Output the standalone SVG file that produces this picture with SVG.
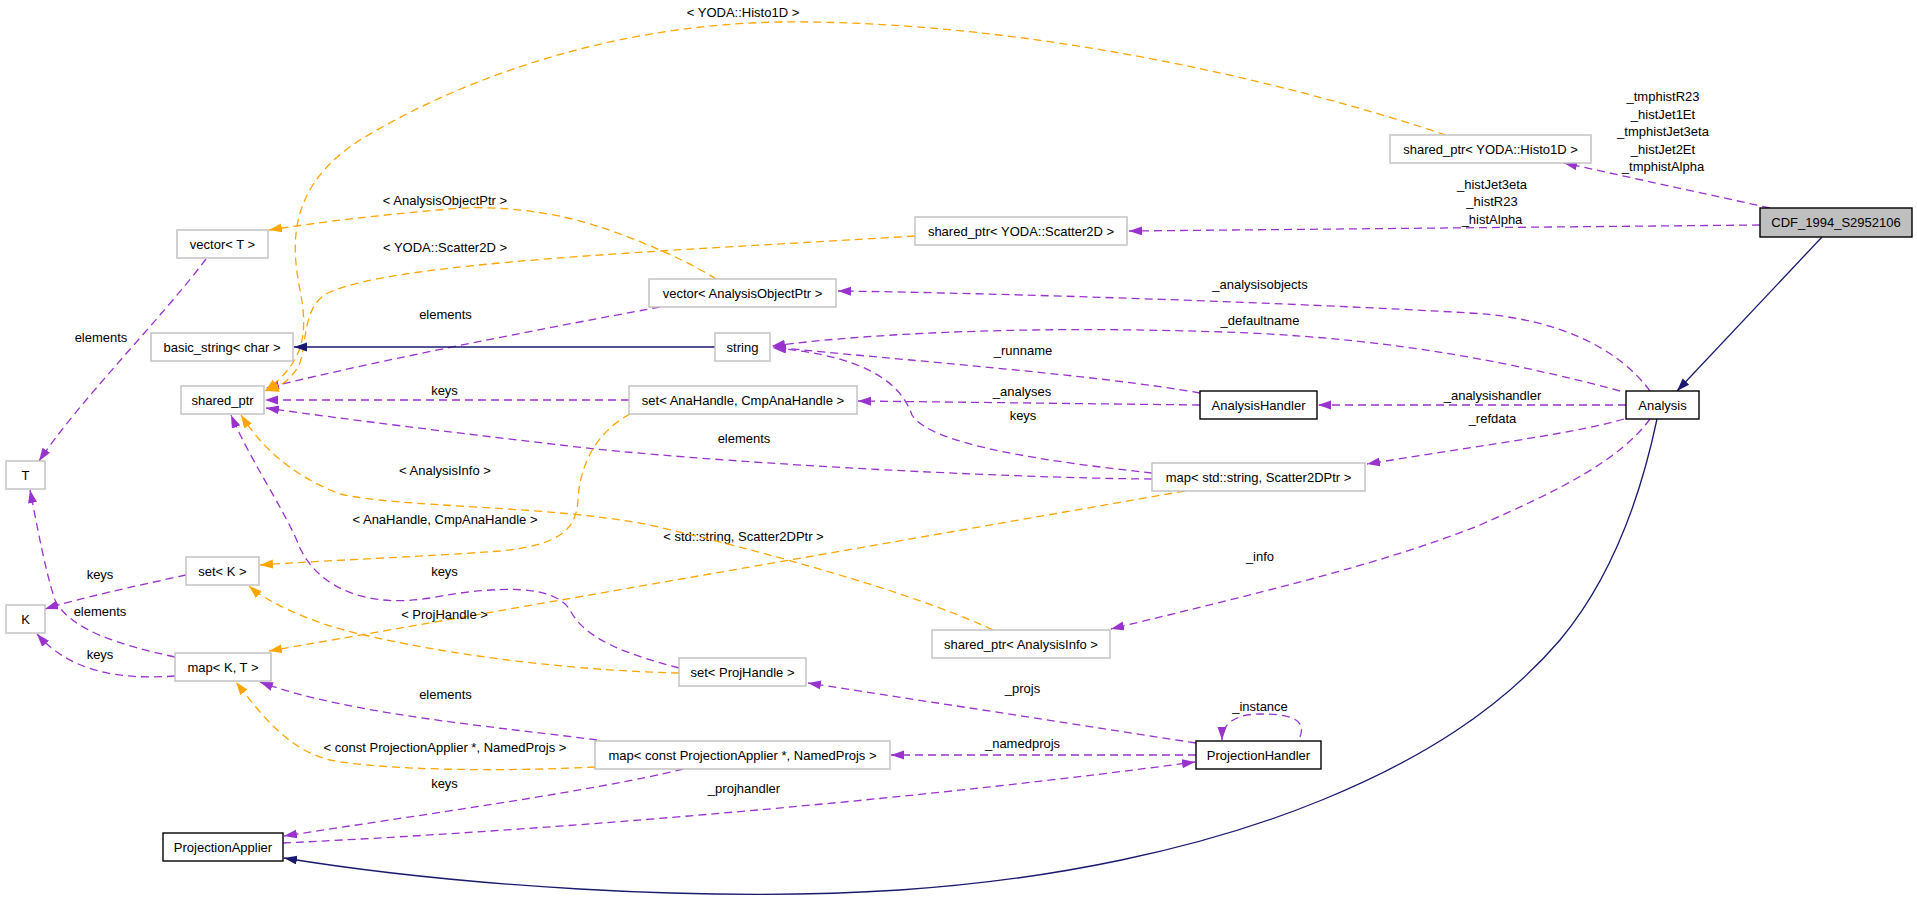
<svg xmlns="http://www.w3.org/2000/svg" width="1917" height="903" viewBox="0 0 1917 903">
<style>
text{font-family:"Liberation Sans",Arial,Helvetica,sans-serif;font-size:13px;fill:#000;text-anchor:middle}
.n rect{fill:#fff;stroke:#bfbfbf;stroke-width:1.4}
.b rect{stroke:#000}
.cur rect{fill:#bfbfbf;stroke:#000}
.u{fill:none;stroke:#9a32cd;stroke-width:1.3;stroke-dasharray:8,5;marker-end:url(#ap)}
.t{fill:none;stroke:#ffa500;stroke-width:1.3;stroke-dasharray:8,5;marker-end:url(#ao)}
.i{fill:none;stroke:#191970;stroke-width:1.3;marker-end:url(#an)}
</style>
<defs>
<marker id="ap" markerUnits="userSpaceOnUse" markerWidth="14" markerHeight="10" refX="13" refY="4.5" orient="auto"><path d="M0,0 L13,4.5 L0,9 z" fill="#9a32cd"/></marker>
<marker id="ao" markerUnits="userSpaceOnUse" markerWidth="14" markerHeight="10" refX="13" refY="4.5" orient="auto"><path d="M0,0 L13,4.5 L0,9 z" fill="#ffa500"/></marker>
<marker id="an" markerUnits="userSpaceOnUse" markerWidth="14" markerHeight="10" refX="13" refY="4.5" orient="auto"><path d="M0,0 L13,4.5 L0,9 z" fill="#191970"/></marker>
</defs>
<rect width="1917" height="903" fill="#fff"/>
<g id="edges">
<path class="u" d="M1770,208 L1564,163"/>
<text x="1663" y="101">_tmphistR23</text>
<text x="1663" y="118.5">_histJet1Et</text>
<text x="1663" y="136">_tmphistJet3eta</text>
<text x="1663" y="153.5">_histJet2Et</text>
<text x="1663" y="171">_tmphistAlpha</text>
<path class="u" d="M1760,225 L1129,231"/>
<text x="1492" y="188.5">_histJet3eta</text>
<text x="1492" y="206">_histR23</text>
<text x="1492" y="223.5">_histAlpha</text>
<path class="u" d="M1650,391 C1620,350 1560,318 1470,313 C1300,303 1000,293 838,291"/>
<text x="1260" y="289">_analysisobjects</text>
<path class="u" d="M1620,391 C1520,364 1400,340 1250,333 C1050,325 880,332 772,346"/>
<text x="1260" y="325">_defaultname</text>
<path class="u" d="M1200,393 C1100,375 900,360 773,347"/>
<text x="1023" y="355">_runname</text>
<path class="u" d="M1200,405 L858,401"/>
<text x="1022" y="396">_analyses</text>
<path class="u" d="M1626,405 L1318,405"/>
<text x="1492.5" y="400">_analysishandler</text>
<path class="u" d="M1624,419 C1580,432 1505,442 1367,464"/>
<text x="1492.5" y="423">_refdata</text>
<path class="u" d="M1650,419 C1620,460 1560,490 1480,525 C1380,565 1250,595 1111,629"/>
<text x="1260" y="561">_info</text>
<path class="u" d="M1152,473 C1050,462 930,445 912,415 C900,380 860,355 773,348"/>
<text x="1023" y="420">keys</text>
<path class="u" d="M1152,479 C1000,478 700,462 560,445 C450,432 350,420 266,408"/>
<text x="744" y="443">elements</text>
<path class="u" d="M660,307 C600,318 400,355 266,388"/>
<text x="445.5" y="319">elements</text>
<path class="u" d="M629,400 L265,400"/>
<text x="444.5" y="395">keys</text>
<path class="u" d="M206,259 C160,320 80,400 39,461"/>
<text x="101" y="342">elements</text>
<path class="u" d="M186,575 C140,585 80,598 45,609"/>
<text x="100" y="579">keys</text>
<path class="u" d="M175,657 C120,645 70,630 55,600 C45,570 38,530 30,490"/>
<text x="100" y="616">elements</text>
<path class="u" d="M175,676 C120,680 70,672 37,634"/>
<text x="100" y="659">keys</text>
<path class="u" d="M679,668 C630,655 585,640 570,610 C555,585 500,585 430,598 C370,608 320,590 300,548 C285,510 250,460 231,415"/>
<text x="444.5" y="576">keys</text>
<path class="u" d="M597,740 C500,727 350,715 260,682"/>
<text x="445.5" y="699">elements</text>
<path class="u" d="M683,769 C600,790 420,815 284,836"/>
<text x="444.5" y="788">keys</text>
<path class="u" d="M283,843 C600,828 950,795 1195,762"/>
<text x="744" y="793">_projhandler</text>
<path class="u" d="M1196,755 L891,755"/>
<text x="1022.5" y="748">_namedprojs</text>
<path class="u" d="M1196,743 L808,683"/>
<text x="1022.5" y="693">_projs</text>
<path class="u" d="M1300,737 C1308,716 1282,714 1260,714 C1238,714 1222,722 1222,740"/>
<text x="1260" y="711">_instance</text>
<path class="t" d="M1446,135 C1250,70 1000,20 780,22 C600,25 450,85 360,140 C290,185 290,240 300,290 C310,340 300,365 265,391"/>
<text x="743" y="17">&lt; YODA::Histo1D &gt;</text>
<path class="t" d="M915,236 C650,252 400,262 330,292 C300,305 308,350 298,367 C290,380 280,387 266,391"/>
<text x="445" y="252">&lt; YODA::Scatter2D &gt;</text>
<path class="t" d="M716,279 C690,262 640,240 600,227 C550,210 490,205 449,209 C380,215 320,222 269,230"/>
<text x="445" y="205">&lt; AnalysisObjectPtr &gt;</text>
<path class="t" d="M630,414 C600,430 580,460 578,500 C576,530 560,545 500,551 C420,557 330,560 260,565"/>
<text x="445" y="524">&lt; AnaHandle, CmpAnaHandle &gt;</text>
<path class="t" d="M1185,491 L269,651"/>
<text x="743.5" y="541">&lt; std::string, Scatter2DPtr &gt;</text>
<path class="t" d="M993,630 C930,600 800,560 650,525 C550,505 400,508 340,494 C290,475 260,445 241,415"/>
<text x="445" y="475">&lt; AnalysisInfo &gt;</text>
<path class="t" d="M679,673 C550,670 420,650 344,630 C300,618 265,600 249,586"/>
<text x="444.5" y="619">&lt; ProjHandle &gt;</text>
<path class="t" d="M595,767 C500,772 380,770 330,760 C290,750 265,720 236,682"/>
<text x="445" y="752">&lt; const ProjectionApplier *, NamedProjs &gt;</text>
<path class="i" d="M1822,237 L1677,391"/>
<path class="i" d="M715,347 L294,347"/>
<path class="i" d="M1657,419 C1640,500 1610,580 1560,640 C1500,710 1420,760 1322,800 C1200,850 1050,880 900,890 C700,903 450,885 284,858"/>
</g>
<g id="n_cdf" class="n cur"><rect x="1760" y="208" width="152" height="29"/><text x="1836" y="227">CDF_1994_S2952106</text></g>
<g id="n_histo1d" class="n"><rect x="1390" y="135" width="201" height="28"/><text x="1490.5" y="153.5">shared_ptr&lt; YODA::Histo1D &gt;</text></g>
<g id="n_scatter2d" class="n"><rect x="915" y="217" width="212" height="28"/><text x="1021" y="235.5">shared_ptr&lt; YODA::Scatter2D &gt;</text></g>
<g id="n_vecaop" class="n"><rect x="649" y="279" width="187" height="28"/><text x="742.5" y="297.5">vector&lt; AnalysisObjectPtr &gt;</text></g>
<g id="n_string" class="n"><rect x="715" y="333" width="55" height="28"/><text x="742.5" y="351.5">string</text></g>
<g id="n_setana" class="n"><rect x="629" y="386" width="228" height="28"/><text x="743" y="404.5">set&lt; AnaHandle, CmpAnaHandle &gt;</text></g>
<g id="n_analysishandler" class="n b"><rect x="1200" y="391" width="117" height="28"/><text x="1258.5" y="409.5">AnalysisHandler</text></g>
<g id="n_analysis" class="n b"><rect x="1626" y="391" width="73" height="28"/><text x="1662.5" y="409.5">Analysis</text></g>
<g id="n_mapstr" class="n"><rect x="1152" y="463" width="213" height="28"/><text x="1258.5" y="481.5">map&lt; std::string, Scatter2DPtr &gt;</text></g>
<g id="n_anainfo" class="n"><rect x="932" y="630" width="178" height="28"/><text x="1021" y="648.5">shared_ptr&lt; AnalysisInfo &gt;</text></g>
<g id="n_setproj" class="n"><rect x="679" y="658" width="127" height="28"/><text x="742.5" y="676.5">set&lt; ProjHandle &gt;</text></g>
<g id="n_mapproj" class="n"><rect x="595" y="741" width="295" height="28"/><text x="742.5" y="759.5">map&lt; const ProjectionApplier *, NamedProjs &gt;</text></g>
<g id="n_projhandler" class="n b"><rect x="1196" y="741" width="125" height="28"/><text x="1258.5" y="759.5">ProjectionHandler</text></g>
<g id="n_projapplier" class="n b"><rect x="163" y="833" width="120" height="28"/><text x="223" y="851.5">ProjectionApplier</text></g>
<g id="n_vect" class="n"><rect x="177" y="230" width="91" height="28"/><text x="222.5" y="248.5">vector&lt; T &gt;</text></g>
<g id="n_basicstring" class="n"><rect x="151" y="333" width="142" height="28"/><text x="222" y="351.5">basic_string&lt; char &gt;</text></g>
<g id="n_sharedptr" class="n"><rect x="181" y="386" width="83" height="28"/><text x="222.5" y="404.5">shared_ptr</text></g>
<g id="n_t" class="n"><rect x="6" y="461" width="39" height="28"/><text x="25.5" y="479.5">T</text></g>
<g id="n_k" class="n"><rect x="6" y="605" width="39" height="28"/><text x="25.5" y="623.5">K</text></g>
<g id="n_setk" class="n"><rect x="186" y="557" width="73" height="28"/><text x="222.5" y="575.5">set&lt; K &gt;</text></g>
<g id="n_mapkt" class="n"><rect x="175" y="653" width="96" height="28"/><text x="223" y="671.5">map&lt; K, T &gt;</text></g>
</svg>
